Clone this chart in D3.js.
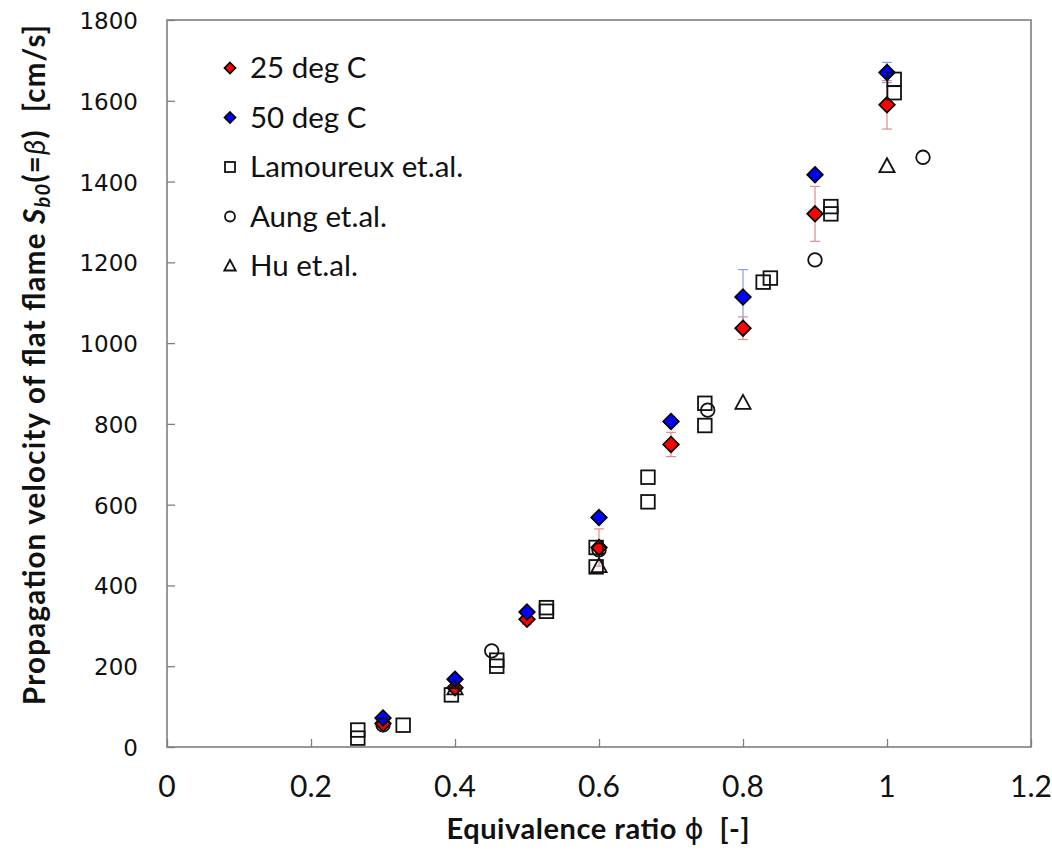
<!DOCTYPE html>
<html>
<head>
<meta charset="utf-8">
<script src="https://cdn.jsdelivr.net/npm/d3@7"></script>
<style>
  html, body { margin: 0; padding: 0; background: #fff; }
  svg { display: block; }
  text { white-space: pre; }
</style>
</head>
<body>
<svg id="chart" width="1052" height="853"></svg>
<script>
// ---- data ----
const xTicks = [0, 0.2, 0.4, 0.6, 0.8, 1, 1.2];
const yTicks = [0, 200, 400, 600, 800, 1000, 1200, 1400, 1600, 1800];

const phi25 = [0.3, 0.4, 0.5, 0.6, 0.7, 0.8, 0.9, 1.0];
const s25   = [58, 147, 316, 494, 749, 1037, 1320, 1590];
const err25 = [5, 8, 12, 46, 30, 28, 68, 60];

const phi50 = [0.3, 0.4, 0.5, 0.6, 0.7, 0.8, 0.9, 1.0];
const s50   = [72, 168, 334, 568, 806, 1114, 1417, 1670];
const err50 = [5, 6, 6, 8, 8, 68, 8, 25];

const phiLam = [0.265, 0.265, 0.328, 0.395, 0.458, 0.458, 0.527, 0.527, 0.596, 0.596, 0.668, 0.668, 0.747, 0.747, 0.828, 0.838, 0.922, 0.922, 1.01, 1.01];
const sLam   = [42, 22, 54, 129, 215, 200, 345, 336, 494, 446, 668, 607, 851, 796, 1151, 1161, 1338, 1320, 1653, 1620];

const phiAung = [0.3, 0.451, 0.6, 0.751, 0.9, 1.05];
const sAung   = [55, 238, 488, 834, 1206, 1460];

const phiHu = [0.4, 0.6, 0.8, 1.0];
const sHu   = [145, 448, 852, 1438];

const legendLabels = ["25 deg C", "50 deg C", "Lamoureux et.al.", "Aung et.al.", "Hu et.al."];

// ---- layout ----
const svg = d3.select("#chart");
const L = 167, R = 1031, T = 20, B = 747;
const x = d3.scaleLinear().domain([0, 1.2]).range([L, R]);
const y = d3.scaleLinear().domain([0, 1800]).range([B, T]);

const frameColor = "#7f7f7f";

// axes (ticks inside)
svg.append("g").attr("transform", `translate(0,${B})`)
  .call(d3.axisBottom(x).tickValues(xTicks).tickSize(-8).tickFormat(""))
  .call(g => g.select(".domain").remove())
  .call(g => g.selectAll("line").attr("stroke", frameColor).attr("stroke-width", 1.3));
svg.append("g").attr("transform", `translate(${L},0)`)
  .call(d3.axisLeft(y).tickValues(yTicks).tickSize(-8).tickFormat(""))
  .call(g => g.select(".domain").remove())
  .call(g => g.selectAll("line").attr("stroke", frameColor).attr("stroke-width", 1.3));

svg.append("rect").attr("x", L).attr("y", T).attr("width", R - L).attr("height", B - T)
  .attr("fill", "none").attr("stroke", frameColor).attr("stroke-width", 1.6);

// tick labels
svg.append("g").selectAll("text").data(xTicks).join("text")
  .attr("x", d => x(d)).attr("y", 797)
  .attr("text-anchor", "middle")
  .attr("font-family", "Lato, 'Open Sans', sans-serif").attr("font-size", 30)
  .attr("fill", "#111")
  .text(d => d3.format("~g")(d));
svg.append("g").selectAll("text").data(yTicks).join("text")
  .attr("x", 138).attr("y", d => y(d) + 9)
  .attr("text-anchor", "end")
  .attr("font-family", "'DejaVu Sans', Verdana, sans-serif").attr("font-size", 23)
  .attr("fill", "#111")
  .text(d => d);

// axis titles
const xt = svg.append("text").attr("x", 598).attr("y", 839).attr("text-anchor", "middle")
  .attr("textLength", 303).attr("lengthAdjust", "spacing")
  .attr("font-family", "Lato, sans-serif").attr("font-weight", "bold").attr("font-size", 29).attr("fill", "#111");
xt.append("tspan").text("Equivalence ratio ");
xt.append("tspan").attr("font-weight", "normal").attr("font-family", "'DejaVu Sans', sans-serif").text("ϕ");
xt.append("tspan").text("  [-]");

const yt = svg.append("text").attr("transform", "translate(45,365) rotate(-90)").attr("text-anchor", "middle")
  .attr("textLength", 680).attr("lengthAdjust", "spacing")
  .attr("font-family", "Lato, sans-serif").attr("font-weight", "bold").attr("font-size", 29.5).attr("fill", "#111");
yt.append("tspan").text("Propagation velocity of flat flame ");
yt.append("tspan").attr("font-style", "italic").text("S");
yt.append("tspan").attr("font-style", "italic").attr("font-size", 20).attr("dy", 5).text("b0");
yt.append("tspan").attr("dy", -5).text("(=");
yt.append("tspan").attr("font-style", "italic").attr("font-weight", "normal").text("β");
yt.append("tspan").text(")  [cm/s]");

// ---- marker helpers ----
function diamond(g, cx, cy, r, fill) {
  g.append("path").attr("d", `M${cx},${cy - r}L${cx + r},${cy}L${cx},${cy + r}L${cx - r},${cy}Z`)
    .attr("fill", fill).attr("stroke", "#000").attr("stroke-width", 1.7);
}
function square(g, cx, cy, r) {
  g.append("rect").attr("x", cx - r).attr("y", cy - r).attr("width", 2 * r).attr("height", 2 * r)
    .attr("fill", "none").attr("stroke", "#111").attr("stroke-width", 1.8);
}
function circle(g, cx, cy, r) {
  g.append("circle").attr("cx", cx).attr("cy", cy).attr("r", r)
    .attr("fill", "none").attr("stroke", "#111").attr("stroke-width", 1.8);
}
function triangle(g, cx, cy, r) {
  g.append("path").attr("d", `M${cx},${cy - r}L${cx + r * 0.95},${cy + r * 0.75}L${cx - r * 0.95},${cy + r * 0.75}Z`)
    .attr("fill", "none").attr("stroke", "#111").attr("stroke-width", 1.8);
}
function errbar(g, px, v, e, color) {
  const y1 = y(v - e), y2 = y(v + e), X = x(px);
  g.append("line").attr("x1", X).attr("x2", X).attr("y1", y1).attr("y2", y2).attr("stroke", color).attr("stroke-width", 1.2);
  [y1, y2].forEach(yy => g.append("line").attr("x1", X - 5).attr("x2", X + 5).attr("y1", yy).attr("y2", yy)
    .attr("stroke", color).attr("stroke-width", 1.2));
}

const plot = svg.append("g");
const redErr = "#e08c8c", blueErr = "#86a2dc";

// error bars
phi25.forEach((p, i) => errbar(plot, p, s25[i], err25[i], redErr));
phi50.forEach((p, i) => errbar(plot, p, s50[i], err50[i], blueErr));
// series
phi25.forEach((p, i) => diamond(plot, x(p), y(s25[i]), 7.8, "#ff0000"));
phi50.forEach((p, i) => diamond(plot, x(p), y(s50[i]), 7.8, "#0000ff"));
phiLam.forEach((p, i) => square(plot, x(p), y(sLam[i]), 6.8));
phiAung.forEach((p, i) => circle(plot, x(p), y(sAung[i]), 6.8));
phiHu.forEach((p, i) => triangle(plot, x(p), y(sHu[i]), 8));

// ---- legend ----
const lg = svg.append("g");
const lx = 230, ly0 = 68, ldy = 49.5;
legendLabels.forEach((lab, i) => {
  const cy = ly0 + i * ldy;
  if (i === 0) diamond(lg, lx, cy, 5.5, "#ff0000");
  if (i === 1) diamond(lg, lx, cy, 5.5, "#0000ff");
  if (i === 2) square(lg, lx, cy, 5);
  if (i === 3) circle(lg, lx, cy, 5);
  if (i === 4) triangle(lg, lx, cy, 6);
  lg.append("text").attr("x", 250).attr("y", cy + 10)
    .attr("font-family", "Lato, sans-serif").attr("font-size", 29.5).attr("fill", "#111")
    .text(lab);
});
</script>
</body>
</html>
